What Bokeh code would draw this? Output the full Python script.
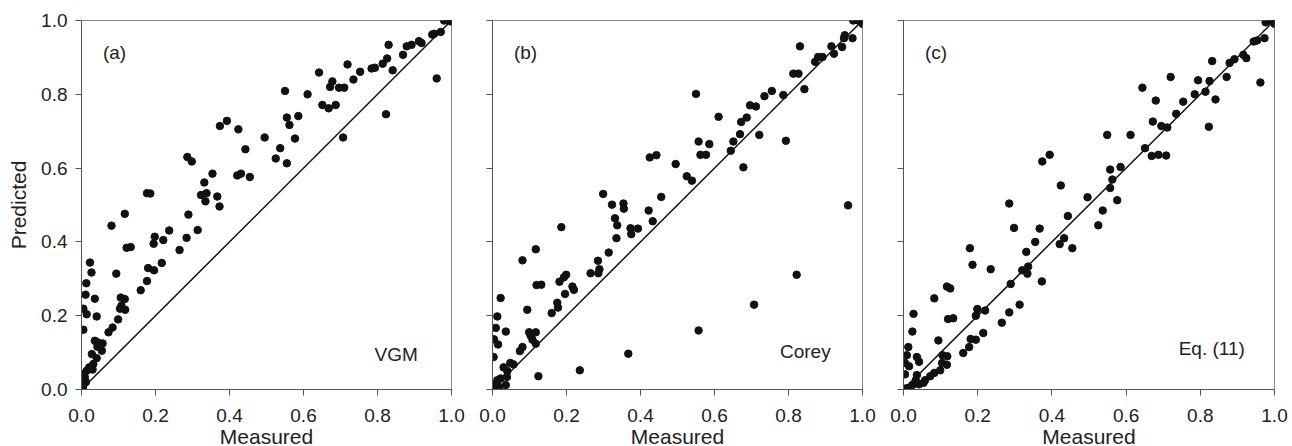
from bokeh.plotting import figure
from bokeh.layouts import row
from bokeh.models import Label, FixedTicker, CustomLabelingPolicy
from bokeh.embed import file_html
from bokeh.resources import INLINE

ticks = [0.0, 0.2, 0.4, 0.6, 0.8, 1.0]
tick_labels = ["0.0", "0.2", "0.4", "0.6", "0.8", "1.0"]
diag = [0.0, 1.0]
panel_tags = ["(a)", "(b)", "(c)"]
model_names = ["VGM", "Corey", "Eq. (11)"]
x_label = "Measured"
y_label = "Predicted"

x_a = [0.98,0.99,1.0,1.0,0.971,0.953,0.948,0.919,0.912,0.892,
       0.879,0.869,0.83,0.826,0.814,0.841,0.793,0.784,0.753,0.719,
       0.735,0.71,0.696,0.678,0.672,0.642,0.687,0.668,0.651,0.611,
       0.55,0.707,0.823,0.96,0.586,0.555,0.562,0.577,0.537,0.525,
       0.555,0.495,0.424,0.443,0.374,0.393,0.431,0.421,0.455,0.354,
       0.286,0.298,0.332,0.338,0.323,0.335,0.367,0.373,0.289,0.314,
       0.284,0.237,0.265,0.198,0.195,0.221,0.217,0.196,0.18,0.177,
       0.16,0.177,0.186,0.117,0.081,0.122,0.133,0.094,0.106,0.117,
       0.108,0.118,0.104,0.099,0.084,0.073,0.023,0.027,0.013,0.011,
       0.005,0.014,0.036,0.041,0.005,0.036,0.043,0.057,0.055,0.043,
       0.028,0.041,0.032,0.021,0.03,0.014,0.005,0.009,0.012,0.005,
       0.001,0.003]
y_a = [1.0,1.0,1.0,0.997,0.969,0.964,0.962,0.939,0.944,0.934,
       0.930,0.907,0.934,0.897,0.883,0.865,0.872,0.87,0.861,0.881,
       0.84,0.818,0.818,0.835,0.82,0.859,0.771,0.762,0.771,0.8,
       0.809,0.683,0.746,0.843,0.741,0.737,0.717,0.68,0.654,0.626,
       0.613,0.683,0.705,0.651,0.714,0.728,0.585,0.58,0.576,0.585,
       0.63,0.618,0.561,0.532,0.527,0.51,0.523,0.496,0.474,0.432,
       0.411,0.431,0.378,0.414,0.395,0.405,0.343,0.323,0.329,0.294,
       0.269,0.532,0.531,0.476,0.444,0.384,0.386,0.314,0.249,0.245,
       0.227,0.216,0.219,0.19,0.168,0.155,0.344,0.317,0.288,0.257,
       0.219,0.204,0.246,0.198,0.162,0.132,0.128,0.125,0.105,0.116,
       0.096,0.085,0.069,0.06,0.054,0.051,0.042,0.033,0.02,0.011,
       0.006,0.002]

x_b = [0.975,0.988,1.0,1.0,0.973,0.952,0.95,0.945,0.923,0.916,
       0.831,0.892,0.88,0.872,0.813,0.827,0.843,0.786,0.755,0.735,
       0.696,0.712,0.687,0.672,0.669,0.651,0.644,0.721,0.793,0.678,
       0.55,0.611,0.557,0.586,0.562,0.577,0.525,0.539,0.495,0.425,
       0.443,0.456,0.422,0.433,0.393,0.373,0.375,0.299,0.323,0.354,
       0.355,0.331,0.337,0.335,0.314,0.285,0.289,0.286,0.265,0.186,
       0.117,0.081,0.199,0.193,0.181,0.216,0.22,0.196,0.119,0.132,
       0.175,0.177,0.16,0.022,0.094,0.013,0.009,0.036,0.004,0.015,
       0.003,0.099,0.103,0.117,0.108,0.117,0.081,0.074,0.048,0.057,
       0.03,0.04,0.039,0.022,0.036,0.013,0.004,0.003,0.018,0.009,
       0.124,0.236,0.367,0.557,0.707,0.822,0.961]
y_b = [1.0,1.0,1.0,0.991,0.952,0.96,0.952,0.928,0.91,0.93,
       0.93,0.901,0.901,0.888,0.856,0.856,0.814,0.798,0.809,0.795,
       0.77,0.767,0.737,0.725,0.692,0.672,0.647,0.69,0.674,0.602,
       0.801,0.739,0.672,0.665,0.636,0.636,0.578,0.566,0.611,0.629,
       0.635,0.522,0.485,0.456,0.436,0.437,0.421,0.53,0.501,0.504,
       0.49,0.464,0.445,0.41,0.371,0.349,0.326,0.315,0.315,0.44,
       0.38,0.35,0.311,0.304,0.292,0.279,0.27,0.259,0.283,0.284,
       0.235,0.222,0.207,0.248,0.216,0.198,0.167,0.157,0.136,0.122,
       0.088,0.155,0.146,0.155,0.135,0.124,0.115,0.104,0.072,0.068,
       0.06,0.05,0.034,0.03,0.012,0.025,0.012,0.003,0.007,0.0,
       0.036,0.052,0.097,0.16,0.23,0.311,0.499]

x_c = [0.976,0.989,0.998,1.0,0.973,0.944,0.953,0.916,0.924,0.892,
       0.879,0.832,0.962,0.871,0.825,0.794,0.841,0.814,0.785,0.754,
       0.735,0.72,0.68,0.644,0.672,0.695,0.711,0.823,0.651,0.669,
       0.687,0.708,0.549,0.612,0.557,0.585,0.563,0.557,0.576,0.496,
       0.537,0.525,0.374,0.394,0.424,0.443,0.433,0.421,0.455,0.285,
       0.298,0.367,0.355,0.331,0.32,0.336,0.334,0.373,0.289,0.313,
       0.285,0.265,0.235,0.179,0.186,0.22,0.199,0.195,0.215,0.195,
       0.181,0.177,0.161,0.083,0.117,0.126,0.12,0.134,0.094,0.105,
       0.118,0.104,0.117,0.099,0.083,0.072,0.058,0.054,0.027,0.024,
       0.013,0.009,0.004,0.015,0.036,0.042,0.004,0.036,0.033,0.042,
       0.024,0.015,0.006,0.0]
y_c = [0.995,1.0,1.0,0.991,0.952,0.943,0.946,0.907,0.898,0.895,
       0.885,0.89,0.832,0.847,0.836,0.838,0.786,0.807,0.8,0.78,
       0.747,0.847,0.783,0.818,0.726,0.714,0.71,0.712,0.654,0.633,
       0.636,0.634,0.69,0.69,0.596,0.603,0.569,0.546,0.513,0.521,
       0.485,0.445,0.618,0.636,0.553,0.47,0.41,0.394,0.383,0.504,
       0.438,0.436,0.4,0.373,0.323,0.333,0.314,0.293,0.286,0.23,
       0.209,0.181,0.326,0.383,0.338,0.214,0.218,0.2,0.153,0.135,
       0.137,0.115,0.099,0.247,0.279,0.274,0.191,0.193,0.133,0.093,
       0.09,0.072,0.067,0.052,0.045,0.036,0.025,0.018,0.205,0.157,
       0.115,0.093,0.072,0.063,0.088,0.075,0.041,0.039,0.025,0.014,
       0.012,0.005,0.003,0.0]

FONT = "Liberation Sans"
TXT = "#222222"
AX = "#555555"


def make_panel(xs, ys, tag, name, name_pos, first, last):
    p = figure(frame_width=371 if last else 370, frame_height=369,
               x_range=(0, 1), y_range=(0, 1),
               output_backend="svg", toolbar_location=None,
               min_border_top=20,
               min_border_left=81 if first else 21,
               min_border_right=14 if last else 20,
               min_border_bottom=10)
    p.grid.visible = False
    p.outline_line_color = "#888888"
    p.outline_line_width = 1
    p.background_fill_color = "white"
    p.border_fill_color = "white"
    for ax in (p.xaxis[0], p.yaxis[0]):
        ax.ticker = FixedTicker(ticks=ticks)
        ax.major_label_overrides = {t: l for t, l in zip(ticks, tick_labels)}
        ax.minor_tick_line_color = None
        ax.major_tick_in = 0
        ax.major_tick_out = 6
        ax.axis_line_color = AX
        ax.major_tick_line_color = AX
        ax.major_label_text_font = FONT
        ax.major_label_text_font_size = "19px"
        ax.major_label_text_color = TXT
        ax.axis_label_text_font = FONT
        ax.axis_label_text_font_size = "21px"
        ax.axis_label_text_font_style = "normal"
        ax.axis_label_text_color = TXT
    p.xaxis.axis_label = x_label
    p.xaxis.major_label_standoff = 13
    p.xaxis.axis_label_standoff = 0
    if first:
        p.yaxis.axis_label = y_label
        p.yaxis.major_label_standoff = 8
        p.yaxis.axis_label_standoff = 8
    else:
        # tick marks only, no tick labels on the inner panels
        p.yaxis.major_label_policy = CustomLabelingPolicy(
            code="for (const i of indices) { if (i < 0) yield i }")
        p.yaxis.major_label_text_font_size = "0px"
        p.yaxis.major_label_standoff = 0

    p.line(diag, diag, line_color="#111111", line_width=1.5)
    p.scatter(xs, ys, size=7.5, fill_color="#111111", line_color="#111111")

    p.add_layout(Label(x=0.058, y=0.914, text=tag, text_align="left",
                       text_baseline="middle", text_font=FONT,
                       text_font_size="19px", text_color=TXT))
    p.add_layout(Label(x=name_pos[0], y=name_pos[1], text=name, text_align="right",
                       text_baseline="middle", text_font=FONT,
                       text_font_size="19px", text_color=TXT))
    return p


pa = make_panel(x_a, y_a, panel_tags[0], model_names[0], (0.909, 0.096), True, False)
pb = make_panel(x_b, y_b, panel_tags[1], model_names[1], (0.914, 0.103), False, False)
pc = make_panel(x_c, y_c, panel_tags[2], model_names[2], (0.92, 0.11), False, True)

layout = row(pa, pb, pc)
open("out.html", "w").write(file_html(layout, INLINE))
